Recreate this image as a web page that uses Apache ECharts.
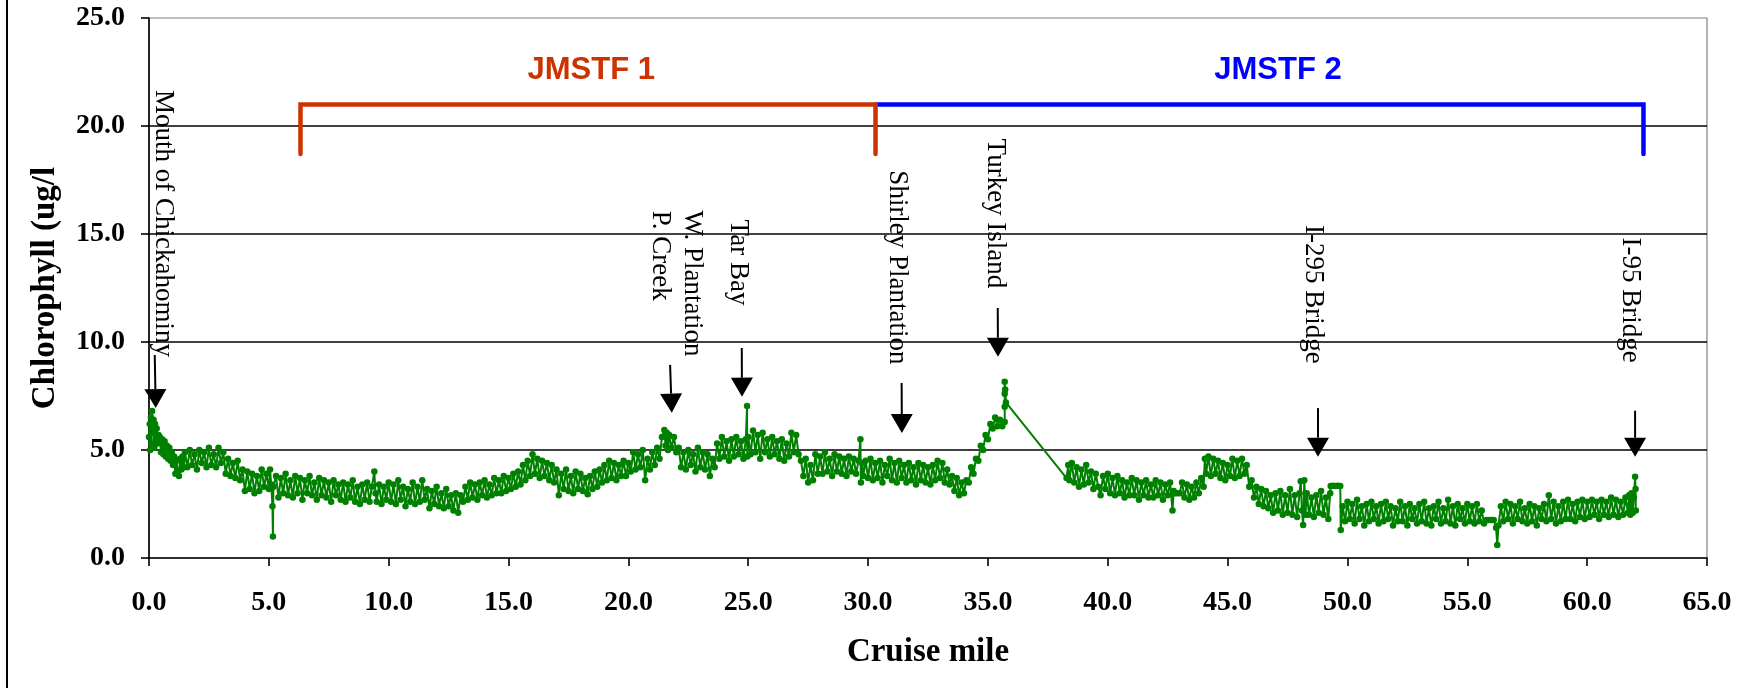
<!DOCTYPE html>
<html>
<head>
<meta charset="utf-8">
<script src="https://cdn.jsdelivr.net/npm/echarts@6/dist/echarts.min.js"></script>
<style>
html,body{margin:0;padding:0;background:#fff;}
#chart{width:1758px;height:688px;}
</style>
</head>
<body>
<div id="chart"></div>
<script>
// ---------- data: [cruise mile, chlorophyll ug/l] ----------
const reachA = [[0.00,5.6],[0.03,6.2],[0.05,5.0],[0.08,6.5],[0.10,5.3],[0.13,6.8],[0.16,5.8],[0.19,6.4],[0.22,5.1],[0.25,6.2],[0.28,5.5],[0.32,6.0],[0.36,5.3],[0.40,5.7],[0.45,5.6],[0.50,4.9],[0.55,5.5],[0.60,4.8],[0.65,5.4],[0.70,4.7],[0.75,5.2],[0.80,4.6],[0.85,5.1],[0.90,4.5],[0.95,4.9],[1.00,4.3],[1.05,4.7],[1.10,3.9],[1.15,4.5],[1.20,4.0],[1.25,3.8],[1.30,4.6],[1.35,4.1],[1.40,4.7],[1.45,4.2],[1.50,4.9],[1.60,4.2],[1.70,5.0],[1.80,4.3],[1.90,4.8],[2.00,4.1],[2.10,5.0],[2.20,4.4],[2.30,4.9],[2.40,4.2],[2.50,5.1],[2.60,4.3],[2.70,4.8],[2.80,4.2],[2.90,5.1],[3.00,4.4],[3.10,4.9],[3.20,3.9],[3.30,4.6],[3.40,3.8],[3.50,4.4],[3.60,3.7],[3.70,4.5],[3.80,3.6],[3.90,4.1],[4.00,3.1],[4.10,4.0],[4.20,3.2],[4.30,3.9],[4.40,3.0],[4.50,3.8],[4.60,3.1],[4.70,4.1],[4.80,3.3],[4.90,3.9],[5.00,3.2],[5.05,4.1],[5.10,3.4],[5.15,2.4],[5.17,1.0],[5.19,3.3],[5.30,3.8],[5.40,2.8],[5.50,3.7],[5.60,3.0],[5.70,3.9],[5.80,2.9],[5.90,3.6],[6.00,2.8],[6.10,3.8],[6.20,3.0],[6.30,3.7],[6.40,2.7],[6.50,3.6],[6.60,3.0],[6.70,3.8],[6.80,2.9],[6.90,3.5],[7.00,2.7],[7.10,3.7],[7.20,2.9],[7.30,3.6],[7.40,2.8],[7.50,3.5],[7.60,2.6],[7.70,3.6],[7.80,2.9],[7.90,3.4],[8.00,2.7],[8.10,3.5],[8.20,2.6],[8.30,3.4],[8.40,2.8],[8.50,3.6],[8.60,2.6],[8.70,3.3],[8.80,2.5],[8.90,3.4],[9.00,2.7],[9.10,3.5],[9.20,2.6],[9.30,3.3],[9.40,4.0],[9.45,3.0],[9.50,2.6],[9.60,3.4],[9.70,2.5],[9.80,3.3],[9.90,2.7],[10.00,3.5]];
const reachB = [[10.10,2.6],[10.20,3.4],[10.30,2.5],[10.40,3.6],[10.50,2.7],[10.60,3.3],[10.70,2.4],[10.80,3.2],[10.90,2.6],[11.00,3.5],[11.10,2.5],[11.20,3.3],[11.30,2.6],[11.40,3.6],[11.50,2.7],[11.60,3.2],[11.70,2.3],[11.80,3.1],[11.90,2.5],[12.00,3.3],[12.10,2.4],[12.20,3.0],[12.30,2.3],[12.40,3.2],[12.50,2.4],[12.60,2.9],[12.70,2.2],[12.80,3.0],[12.90,2.1],[13.00,2.9],[13.10,2.6],[13.20,3.3],[13.30,2.7],[13.40,3.5],[13.50,2.8],[13.60,3.4],[13.70,2.7],[13.80,3.5],[13.90,2.9],[14.00,3.6],[14.10,2.8],[14.20,3.4],[14.30,2.9],[14.40,3.7],[14.50,3.0],[14.60,3.6],[14.70,3.0],[14.80,3.8],[14.90,3.1],[15.00,3.7],[15.10,3.2],[15.20,3.9],[15.30,3.3],[15.40,4.0],[15.50,3.4],[15.60,4.3],[15.70,3.6],[15.80,4.5],[15.90,3.8],[16.00,4.8],[16.10,3.9],[16.20,4.6],[16.30,3.7],[16.40,4.5],[16.50,3.8],[16.60,4.4],[16.70,3.6],[16.80,4.3],[16.90,3.5],[17.00,4.1],[17.10,2.9],[17.20,3.9],[17.30,3.2],[17.40,4.1],[17.50,3.1],[17.60,3.8],[17.70,3.0],[17.80,4.0],[17.90,3.2],[18.00,3.9],[18.10,3.1],[18.20,3.7],[18.30,2.95],[18.40,3.8],[18.50,3.2],[18.60,4.0],[18.70,3.3],[18.80,4.1],[18.90,3.5],[19.00,4.3],[19.10,3.6],[19.20,4.5],[19.30,3.7],[19.40,4.4],[19.50,3.6],[19.60,4.3],[19.70,3.8],[19.80,4.5],[19.90,3.8],[20.00,4.4]];
const reachC = [[20.10,4.0],[20.20,4.9],[20.30,4.1],[20.40,4.8],[20.50,4.2],[20.60,5.0],[20.70,3.6],[20.80,4.6],[20.90,4.1],[21.00,4.9],[21.10,4.3],[21.20,5.1],[21.30,4.6],[21.40,5.6],[21.50,5.93],[21.55,5.2],[21.60,5.8],[21.65,5.0],[21.70,5.7],[21.80,5.1],[21.90,5.6],[22.00,4.9],[22.10,5.1],[22.20,4.2],[22.30,4.9],[22.40,4.1],[22.50,5.0],[22.60,4.3],[22.70,4.8],[22.80,4.0],[22.90,5.1],[23.00,4.2],[23.10,4.9],[23.20,4.1],[23.30,4.8],[23.40,3.8],[23.50,4.6],[23.60,4.2],[23.70,5.3],[23.80,4.6],[23.90,5.6],[24.00,4.7],[24.10,5.4],[24.20,4.5],[24.30,5.5],[24.40,4.7],[24.50,5.6],[24.60,4.8],[24.70,5.4],[24.80,4.6],[24.90,5.5],[24.95,7.04],[24.96,4.7],[25.00,5.6],[25.10,4.8],[25.20,5.9],[25.30,4.9],[25.40,5.7],[25.50,4.6],[25.60,5.8],[25.70,4.9],[25.80,5.5],[25.90,4.7],[26.00,5.6],[26.10,4.8],[26.20,5.4],[26.30,4.6],[26.40,5.5],[26.50,4.5],[26.60,5.3],[26.70,4.7],[26.80,5.8],[26.90,4.9],[27.00,5.7],[27.10,4.8],[27.20,4.5],[27.30,3.8],[27.40,4.6],[27.50,3.5],[27.60,4.3],[27.70,3.6],[27.80,4.8],[27.90,3.9],[28.00,4.7],[28.10,3.9],[28.20,4.9],[28.30,4.0],[28.40,4.6],[28.50,3.8],[28.60,4.8],[28.70,4.0],[28.80,4.7],[28.90,3.9],[29.00,4.6],[29.10,3.8],[29.20,4.7],[29.30,4.0],[29.40,4.6],[29.50,3.9],[29.60,4.5],[29.68,5.5],[29.70,3.5],[29.75,4.4],[29.80,3.8],[29.90,4.5],[30.00,3.7]];
const reachD = [[30.10,4.6],[30.20,3.6],[30.30,4.4],[30.40,3.7],[30.50,4.5],[30.60,3.5],[30.70,4.3],[30.80,3.8],[30.90,4.6],[31.00,3.6],[31.10,4.4],[31.20,3.5],[31.30,4.5],[31.40,3.7],[31.50,4.3],[31.60,3.5],[31.70,4.4],[31.80,3.6],[31.90,4.2],[32.00,3.4],[32.10,4.4],[32.20,3.6],[32.30,4.3],[32.40,3.5],[32.50,4.2],[32.60,3.4],[32.70,4.3],[32.80,3.6],[32.90,4.5],[33.00,3.7],[33.10,4.4],[33.20,3.5],[33.30,4.1],[33.40,3.4],[33.50,3.8],[33.60,3.1],[33.70,3.7],[33.80,2.9],[33.90,3.5],[34.00,3.0],[34.10,3.6],[34.20,3.5],[34.30,4.2],[34.40,3.9],[34.50,4.6],[34.60,4.5],[34.70,5.2],[34.80,5.0],[34.90,5.7],[35.00,5.5],[35.10,6.2],[35.20,6.0],[35.30,6.5],[35.40,6.1],[35.50,6.4],[35.60,6.1],[35.70,6.3],[35.70,7.0],[35.70,7.6],[35.70,8.16],[35.72,7.8],[35.75,7.2]];
const reachE = [[38.28,3.7],[38.35,4.3],[38.40,3.6],[38.50,4.4],[38.60,3.5],[38.70,4.2],[38.80,3.3],[38.90,4.1],[39.00,3.4],[39.10,4.3],[39.20,3.5],[39.30,4.0],[39.40,3.2],[39.50,3.9],[39.60,3.3],[39.70,2.9],[39.80,3.8],[39.90,3.2],[40.00,3.9],[40.10,3.0],[40.20,3.7],[40.30,2.9],[40.40,3.8],[40.50,3.0],[40.60,3.6],[40.70,2.8],[40.80,3.5],[40.90,2.9],[41.00,3.7],[41.10,2.9],[41.20,3.6],[41.30,2.7],[41.40,3.5],[41.50,2.9],[41.60,3.6],[41.70,2.8],[41.80,3.4],[41.90,2.8],[42.00,3.6],[42.10,2.9],[42.20,3.5],[42.30,2.7],[42.40,3.4],[42.50,2.9],[42.60,3.5],[42.70,2.2],[42.75,3.1],[42.80,3.0],[42.90,3.0],[43.00,3.0],[43.10,3.5],[43.20,2.8],[43.30,3.4],[43.40,2.7],[43.50,3.3],[43.60,2.8],[43.70,3.5],[43.80,3.0],[43.90,3.7],[44.00,3.3],[44.05,4.6],[44.10,3.9],[44.20,4.7],[44.30,3.8],[44.40,4.6],[44.50,3.9],[44.60,4.5],[44.70,3.7],[44.80,4.4],[44.90,3.6],[45.00,4.3],[45.10,3.8],[45.20,4.6],[45.30,3.7],[45.40,4.5],[45.50,3.8],[45.60,4.6],[45.70,3.9],[45.80,4.3],[45.90,3.3],[46.00,3.6],[46.10,2.8],[46.20,3.3],[46.30,2.5],[46.40,3.2],[46.50,2.4],[46.60,3.1],[46.70,2.3],[46.80,2.9],[46.90,2.1],[47.00,3.0],[47.10,2.2],[47.20,3.1],[47.30,2.0],[47.40,2.9],[47.50,2.1],[47.60,3.2],[47.70,2.0],[47.80,2.9],[47.90,1.9],[48.00,3.0],[48.05,3.55],[48.10,2.2],[48.15,1.53],[48.20,3.6],[48.25,2.0],[48.30,3.0],[48.40,2.0],[48.50,2.8],[48.60,1.9],[48.70,2.9],[48.80,2.1],[48.90,3.1],[49.00,2.0],[49.10,2.8],[49.20,1.8],[49.28,3.0],[49.30,3.33],[49.40,3.35],[49.50,3.33],[49.60,3.35],[49.70,3.33],[49.72,1.3],[49.80,2.4],[49.90,1.7],[50.00,2.6]];
const reachF = [[50.10,1.8],[50.20,2.5],[50.30,1.6],[50.40,2.7],[50.50,1.8],[50.60,2.4],[50.70,1.5],[50.80,2.5],[50.90,1.7],[51.00,2.6],[51.10,1.8],[51.20,2.4],[51.30,1.6],[51.40,2.5],[51.50,1.7],[51.60,2.6],[51.70,1.8],[51.80,2.4],[51.90,1.5],[52.00,2.3],[52.10,1.7],[52.20,2.6],[52.30,1.7],[52.40,2.4],[52.50,1.5],[52.60,2.5],[52.70,1.8],[52.80,2.3],[52.90,1.6],[53.00,2.5],[53.10,1.7],[53.20,2.6],[53.30,1.6],[53.40,2.3],[53.50,1.5],[53.60,2.4],[53.70,1.8],[53.80,2.6],[53.90,1.6],[54.00,2.3],[54.10,1.7],[54.20,2.7],[54.30,1.6],[54.40,2.4],[54.50,1.5],[54.60,2.5],[54.70,1.8],[54.80,2.3],[54.90,1.6],[55.00,2.5],[55.10,1.7],[55.20,2.4],[55.30,1.6],[55.40,2.5],[55.50,1.7],[55.60,2.2],[55.70,1.6],[55.80,1.76],[55.90,1.76],[56.00,1.76],[56.10,1.76],[56.20,1.4],[56.25,0.6],[56.30,1.5],[56.40,2.4],[56.50,1.7],[56.60,2.6],[56.70,1.8],[56.80,2.5],[56.90,1.6],[57.00,2.4],[57.10,1.8],[57.20,2.6],[57.30,1.7],[57.40,2.3],[57.50,1.6],[57.60,2.5],[57.70,1.7],[57.80,2.4],[57.90,1.5],[58.00,2.3],[58.10,1.8],[58.20,2.5],[58.30,1.7],[58.40,2.9],[58.50,1.8],[58.60,2.6],[58.70,1.6],[58.80,2.4],[58.90,1.7],[59.00,2.6],[59.10,1.8],[59.20,2.7],[59.30,1.8],[59.40,2.5],[59.50,1.7],[59.60,2.6],[59.70,1.9],[59.80,2.7],[59.90,1.8],[60.00,2.6],[60.10,1.9],[60.20,2.7],[60.30,2.0],[60.40,2.6],[60.50,1.8],[60.60,2.7],[60.70,2.0],[60.80,2.6],[60.90,1.9],[61.00,2.8],[61.10,2.0],[61.20,2.7],[61.30,1.9],[61.40,2.6],[61.50,2.0],[61.60,2.8],[61.70,2.1],[61.75,2.9],[61.80,2.0],[61.85,3.0],[61.90,2.1],[61.95,2.8],[62.00,3.76],[62.02,3.2],[62.03,2.2]];

// axis ticks
const xTicks = [0,5,10,15,20,25,30,35,40,45,50,55,60,65];
const yTicks = [0,5,10,15,20,25];

// site annotations (rotated labels, anchored at their centre) and arrows
const siteNames = ['Mouth of Chickahominy','W. Plantation','P. Creek','Tar Bay','Shirley Plantation','Turkey Island','I-295 Bridge','I-95 Bridge'];
const siteLabelMiles = [0.58, 22.64, 21.32, 24.57, 31.2, 35.29, 48.56, 61.79];
const siteLabelMidValues = [15.49, 12.71, 13.99, 13.68, 13.45, 15.95, 12.2, 11.94];
const arrowTailMiles = [0.24, 21.74, 24.73, 31.40, 35.41, 48.77, 62.0];
const arrowTailValues = [9.40, 8.94, 9.72, 8.10, 11.57, 6.94, 6.82];
const arrowTipMiles = [0.28, 21.81, 24.74, 31.41, 35.42, 48.77, 62.0];
const arrowTipValues = [6.94, 6.73, 7.47, 5.79, 9.32, 4.69, 4.69];

// task-force reach brackets
const bracketNames = ['JMSTF 1','JMSTF 2'];
const bracketStartMiles = [6.32, 30.31];
const bracketEndMiles = [30.31, 62.35];
const bracketLeftFoot = [true, false];
const bracketTopValue = [21.0, 21.0];
const bracketFootValue = [18.7, 18.7];
const bracketLabelMiles = [18.45, 47.1];
const bracketLabelValue = [22.57, 22.57];
const bracketColors = ['#CC3300', '#0000FF'];

const chlData = [].concat(reachA, reachB, reachC, reachD, reachE, reachF);

const serif = '"Liberation Serif","Times New Roman",serif';
const chart = echarts.init(document.getElementById('chart'), null, {renderer: 'canvas'});

const option = {
  animation: false,
  backgroundColor: '#ffffff',
  grid: {left: 149, right: 51, top: 18, bottom: 130, show: true, borderColor: '#808080', borderWidth: 1.2, backgroundColor: 'transparent'},
  graphic: [{type: 'line', shape: {x1: 7, y1: 0, x2: 7, y2: 688}, style: {stroke: '#000', lineWidth: 2}, silent: true}],
  xAxis: {
    type: 'value', min: xTicks[0], max: xTicks[xTicks.length - 1], interval: 5,
    name: 'Cruise mile', nameLocation: 'middle', nameGap: 78,
    nameTextStyle: {fontFamily: serif, fontWeight: 'bold', fontSize: 33, color: '#000'},
    axisLine: {show: true, onZero: false, lineStyle: {color: '#000', width: 1.6}},
    axisTick: {show: true, inside: false, length: 8, lineStyle: {color: '#000', width: 1.6}},
    axisLabel: {margin: 31, fontFamily: serif, fontWeight: 'bold', fontSize: 28, color: '#000', formatter: v => v.toFixed(1)},
    splitLine: {show: false}
  },
  yAxis: {
    type: 'value', min: yTicks[0], max: yTicks[yTicks.length - 1], interval: 5,
    name: 'Chlorophyll (ug/l', nameLocation: 'middle', nameGap: 87, nameRotate: 90,
    nameTextStyle: {fontFamily: serif, fontWeight: 'bold', fontSize: 33, color: '#000'},
    axisLine: {show: true, onZero: false, lineStyle: {color: '#000', width: 1.6}},
    axisTick: {show: true, inside: false, length: 8, lineStyle: {color: '#000', width: 1.6}},
    axisLabel: {margin: 24, fontFamily: serif, fontWeight: 'bold', fontSize: 28, color: '#000', formatter: v => v.toFixed(1)},
    splitLine: {show: true, showMinLine: false, showMaxLine: false, lineStyle: {color: '#000', width: 1.6}}
  },
  series: [
    {
      name: 'Chlorophyll', type: 'line', data: chlData,
      showAllSymbol: true, symbol: 'circle', symbolSize: 6.5,
      itemStyle: {color: '#008000'}, lineStyle: {color: '#008000', width: 2},
      z: 3, silent: true
    },
    {
      name: 'brackets', type: 'custom', coordinateSystem: 'cartesian2d', clip: false, silent: true, z: 5,
      data: bracketNames.map((n, i) => [bracketStartMiles[i], bracketTopValue[i], bracketEndMiles[i], bracketFootValue[i]]),
      renderItem: function (params, api) {
        const i = params.dataIndex;
        const tl = api.coord([api.value(0), api.value(1)]);
        const tr = api.coord([api.value(2), api.value(1)]);
        const fl = api.coord([api.value(0), api.value(3)]);
        const fr = api.coord([api.value(2), api.value(3)]);
        const pts = bracketLeftFoot[i] ? [fl, tl, tr, fr] : [tl, tr, fr];
        const lab = api.coord([bracketLabelMiles[i], bracketLabelValue[i]]);
        return {type: 'group', children: [
          {type: 'polyline', shape: {points: pts}, style: {stroke: bracketColors[i], lineWidth: 4.5, fill: null, lineCap: 'round', lineJoin: 'miter'}, z2: i === 0 ? 10 : 5},
          {type: 'text', x: lab[0], y: lab[1], style: {text: bracketNames[i], font: 'bold 31px "Liberation Sans",Arial,sans-serif', fill: bracketColors[i], align: 'center', verticalAlign: 'middle'}}
        ]};
      }
    },
    {
      name: 'arrows', type: 'custom', coordinateSystem: 'cartesian2d', clip: false, silent: true, z: 6,
      data: arrowTipMiles.map((m, i) => [arrowTailMiles[i], arrowTailValues[i], m, arrowTipValues[i]]),
      renderItem: function (params, api) {
        const tail = api.coord([api.value(0), api.value(1)]);
        const tip = api.coord([api.value(2), api.value(3)]);
        const dx = tip[0] - tail[0], dy = tip[1] - tail[1];
        const len = Math.sqrt(dx * dx + dy * dy);
        const ux = dx / len, uy = dy / len;
        const headLen = 19, headHalf = 11;
        const base = [tip[0] - ux * headLen, tip[1] - uy * headLen];
        const px = -uy, py = ux;
        return {type: 'group', children: [
          {type: 'line', shape: {x1: tail[0], y1: tail[1], x2: base[0], y2: base[1]}, style: {stroke: '#000', lineWidth: 2}},
          {type: 'polygon', shape: {points: [tip, [base[0] + px * headHalf, base[1] + py * headHalf], [base[0] - px * headHalf, base[1] - py * headHalf]]}, style: {fill: '#000'}}
        ]};
      }
    },
    {
      name: 'sites', type: 'custom', coordinateSystem: 'cartesian2d', clip: false, silent: true, z: 6,
      data: siteNames.map((n, i) => [siteLabelMiles[i], siteLabelMidValues[i]]),
      renderItem: function (params, api) {
        const p = api.coord([api.value(0), api.value(1)]);
        return {type: 'text', x: p[0], y: p[1], rotation: -Math.PI / 2,
          style: {text: siteNames[params.dataIndex], font: '27px ' + serif, fill: '#000', align: 'center', verticalAlign: 'middle'}};
      }
    }
  ]
};
chart.setOption(option);
</script>
</body>
</html>
